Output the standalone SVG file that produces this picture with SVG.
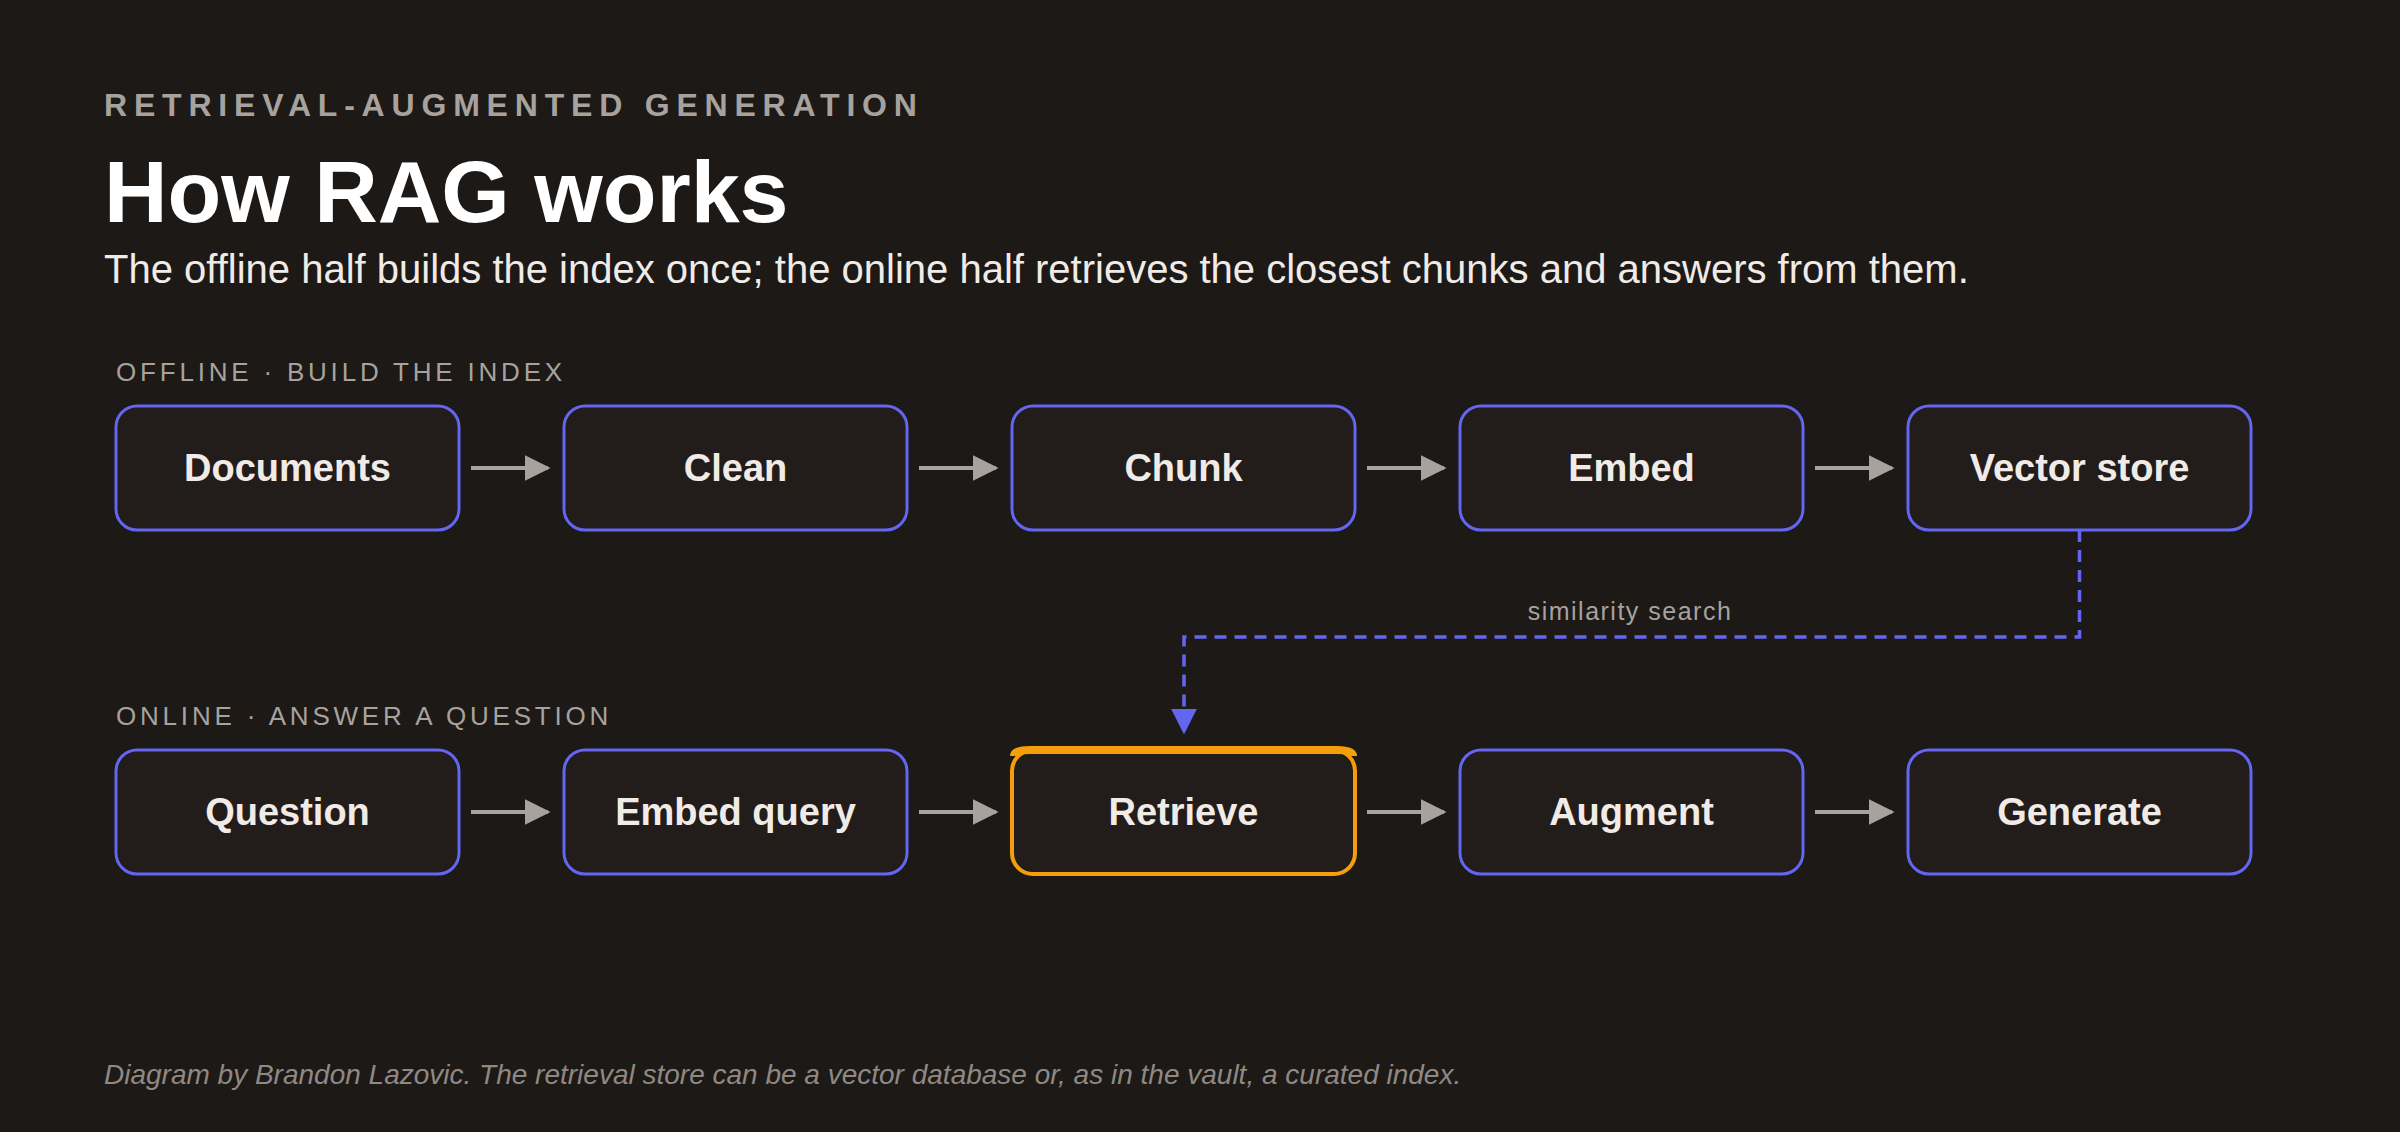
<svg xmlns="http://www.w3.org/2000/svg" width="2400" height="1132" viewBox="0 0 2400 1132">
<style>
text{font-family:"Liberation Sans",Arial,sans-serif}
.node rect{fill:#221c1a;stroke:#6366f1;stroke-width:3}
.node text{fill:#f0ebe6;font-size:38px;font-weight:bold;text-anchor:middle}
.sec{fill:#a8a29e;font-size:26px;letter-spacing:3.8px}
.arr{stroke:#a8a29e;stroke-width:4;fill:none;marker-end:url(#ga)}
</style>
<defs>
<marker id="ga" viewBox="0 0 10 10" refX="9" refY="5" markerWidth="26" markerHeight="26" markerUnits="userSpaceOnUse" orient="auto"><path d="M0,0L10,5L0,10z" fill="#a8a29e"/></marker>
<marker id="ba" viewBox="0 0 10 10" refX="9" refY="5" markerWidth="26" markerHeight="26" markerUnits="userSpaceOnUse" orient="auto"><path d="M0,0L10,5L0,10z" fill="#6366f1"/></marker>
</defs>
<rect width="2400" height="1132" fill="#1c1917"/>
<text x="104" y="116" fill="#a8a29e" font-size="32" font-weight="bold" letter-spacing="6.8">RETRIEVAL-AUGMENTED GENERATION</text>
<text x="104" y="222" fill="#ffffff" font-size="88" font-weight="bold">How RAG works</text>
<text x="104" y="283" fill="#f0ebe6" font-size="40">The offline half builds the index once; the online half retrieves the closest chunks and answers from them.</text>
<text class="sec" x="116" y="381">OFFLINE · BUILD THE INDEX</text>
<text class="sec" x="116" y="725">ONLINE · ANSWER A QUESTION</text>
<g id="n-documents" class="node"><rect x="116" y="406" width="343" height="124" rx="21"/><text x="287.5" y="481">Documents</text></g>
<g id="n-clean" class="node"><rect x="564" y="406" width="343" height="124" rx="21"/><text x="735.5" y="481">Clean</text></g>
<g id="n-chunk" class="node"><rect x="1012" y="406" width="343" height="124" rx="21"/><text x="1183.5" y="481">Chunk</text></g>
<g id="n-embed" class="node"><rect x="1460" y="406" width="343" height="124" rx="21"/><text x="1631.5" y="481">Embed</text></g>
<g id="n-vector" class="node"><rect x="1908" y="406" width="343" height="124" rx="21"/><text x="2079.5" y="481">Vector store</text></g>
<g id="n-question" class="node"><rect x="116" y="750" width="343" height="124" rx="21"/><text x="287.5" y="825">Question</text></g>
<g id="n-embedq" class="node"><rect x="564" y="750" width="343" height="124" rx="21"/><text x="735.5" y="825">Embed query</text></g>
<g id="n-retrieve" class="node"><rect x="1012" y="750" width="343" height="124" rx="21" style="stroke:#f59e0b;stroke-width:4"/><path d="M1014,756 Q1014,750 1030,750 L1337,750 Q1353,750 1353,756" fill="none" stroke="#f59e0b" stroke-width="8"/><text x="1183.5" y="825">Retrieve</text></g>
<g id="n-augment" class="node"><rect x="1460" y="750" width="343" height="124" rx="21"/><text x="1631.5" y="825">Augment</text></g>
<g id="n-generate" class="node"><rect x="1908" y="750" width="343" height="124" rx="21"/><text x="2079.5" y="825">Generate</text></g>
<g id="connectors">
<path class="arr" d="M471,468H548"/><path class="arr" d="M919,468H996"/><path class="arr" d="M1367,468H1444"/><path class="arr" d="M1815,468H1892"/>
<path class="arr" d="M471,812H548"/><path class="arr" d="M919,812H996"/><path class="arr" d="M1367,812H1444"/><path class="arr" d="M1815,812H1892"/>
<path d="M2079.5,530V637H1184V732" fill="none" stroke="#6366f1" stroke-width="3.5" stroke-dasharray="12 8" marker-end="url(#ba)"/>
<text x="1630" y="620" fill="#a8a29e" font-size="25" text-anchor="middle" letter-spacing="1.5">similarity search</text>
</g>
<text x="104" y="1084" fill="#8f8883" font-size="28" font-style="italic">Diagram by Brandon Lazovic. The retrieval store can be a vector database or, as in the vault, a curated index.</text>
</svg>
